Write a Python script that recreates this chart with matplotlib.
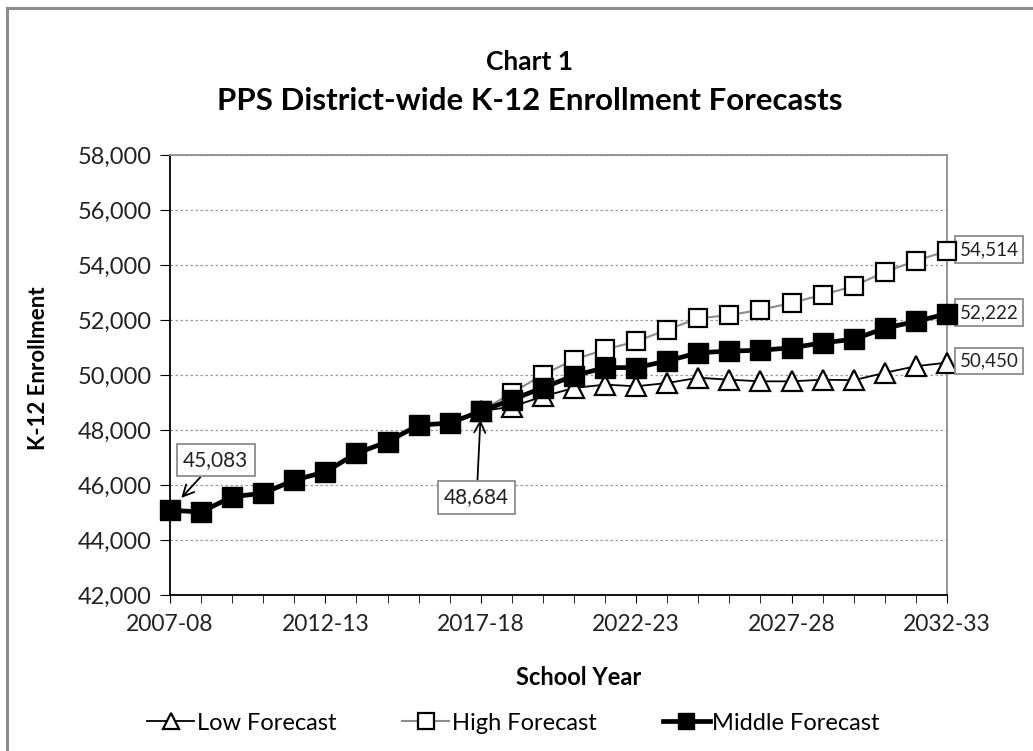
import matplotlib
matplotlib.use('Agg')
import matplotlib.pyplot as plt
from matplotlib.lines import Line2D
from matplotlib.ticker import FuncFormatter, MultipleLocator
import numpy as np

plt.rcParams['font.family'] = ['Lato', 'DejaVu Sans']

# school years 2007-08 .. 2032-33
years = [f"{y}-{str(y + 1)[-2:]}" for y in range(2007, 2033)]

# actual enrollment 2007-08 .. 2017-18, then the middle forecast
middle = [45083, 45020, 45575, 45700, 46180, 46480, 47150, 47575, 48180, 48250,
          48684, 49100, 49540, 49975, 50270, 50270, 50510, 50810, 50870, 50900,
          50990, 51170, 51300, 51700, 51950, 52222]
# low / high forecasts start from the 2017-18 actual
low = [48684, 48850, 49220, 49530, 49650, 49590, 49710, 49900, 49830, 49770,
       49770, 49830, 49810, 50080, 50320, 50450]
high = [48684, 49350, 50010, 50560, 50930, 51220, 51650, 52060, 52180, 52370,
        52620, 52920, 53230, 53750, 54150, 54514]

x_all = np.arange(len(years))
x_fc = x_all[10:]

fig = plt.figure(figsize=(10.33, 7.51), dpi=100)
ax = fig.add_axes([0.1646, 0.2077, 0.7521, 0.5859])

ax.plot(x_fc, low, color='black', lw=1.3, marker='^', ms=14, mfc='white',
        mec='black', mew=1.6, zorder=3, clip_on=False, label='Low Forecast')
ax.plot(x_fc, high, color='#8c8c8c', lw=1.5, marker='s', ms=13, mfc='white',
        mec='black', mew=1.6, zorder=4, clip_on=False, label='High Forecast')
ax.plot(x_all, middle, color='black', lw=3.4, marker='s', ms=15, mfc='black',
        mec='black', zorder=5, clip_on=False, label='Middle Forecast')

ax.set_xlim(0, len(years) - 1)
ax.set_ylim(42000, 58000)
ax.yaxis.set_major_locator(MultipleLocator(2000))
ax.yaxis.set_major_formatter(FuncFormatter(lambda v, p: f"{int(v):,}"))
ax.set_xticks(x_all[::5])
ax.set_xticklabels(years[::5])
ax.set_xticks(x_all, minor=True)
ax.tick_params(axis='x', which='both', length=6, direction='out', pad=8,
               labelsize=16.5, labelcolor='#222222')
ax.tick_params(axis='y', length=7, direction='out', pad=6, labelsize=17,
               labelcolor='#222222')
ax.grid(axis='y', color='#9a9a9a', ls=(0, (2, 2)), lw=0.9)
ax.set_axisbelow(True)

for s in ['left', 'bottom']:
    ax.spines[s].set_color('black')
    ax.spines[s].set_linewidth(1.3)
for s in ['top', 'right']:
    ax.spines[s].set_color('#8c8c8c')
    ax.spines[s].set_linewidth(1.3)

box = dict(boxstyle='square,pad=0.3', fc='white', ec='#8c8c8c', lw=1.3)
box_end = dict(boxstyle='square,pad=0.25', fc='white', ec='#8c8c8c', lw=1.3)

# callouts for the first year and last actual year
ax.annotate(f"{middle[0]:,}", xy=(x_all[0], middle[0]), xytext=(33, 36),
            textcoords='offset points', ha='center', va='center', fontsize=15,
            color='#222222', bbox=box, zorder=6,
            arrowprops=dict(arrowstyle='->', color='black', lw=1.3,
                            shrinkA=0, shrinkB=12, mutation_scale=20))
ax.annotate(f"{middle[10]:,}", xy=(x_all[10], middle[10]), xytext=(-3, -62),
            textcoords='offset points', ha='center', va='center', fontsize=15,
            color='#222222', bbox=box, zorder=6,
            arrowprops=dict(arrowstyle='->', color='black', lw=1.3,
                            shrinkA=0, shrinkB=6, mutation_scale=20))

# end labels
for vals in [high, middle, low]:
    ax.annotate(f"{vals[-1]:,}", xy=(x_all[-1], vals[-1]), xytext=(9, 1),
                textcoords='offset points', ha='left', va='center',
                fontsize=13.5, color='#222222', bbox=box_end,
                annotation_clip=False)

fig.text(0.513, 0.917, 'Chart 1', ha='center', va='center', fontsize=19,
         fontweight='bold')
fig.text(0.513, 0.866, 'PPS District-wide K-12 Enrollment Forecasts',
         ha='center', va='center', fontsize=22.5, fontweight='bold')
fig.text(0.56, 0.098, 'School Year', ha='center', va='center', fontsize=17,
         fontweight='bold')
fig.text(0.037, 0.51, 'K-12 Enrollment', ha='center', va='center', fontsize=16,
         fontweight='bold', rotation=90)

handles = [
    Line2D([], [], color='black', lw=1.3, marker='^', ms=11, mfc='white',
           mec='black', mew=1.6),
    Line2D([], [], color='#8c8c8c', lw=1.5, marker='s', ms=11, mfc='white',
           mec='black', mew=1.6),
    Line2D([], [], color='black', lw=3.4, marker='s', ms=12, mfc='black'),
]
fig.legend(handles, ['Low Forecast', 'High Forecast', 'Middle Forecast'],
           loc='center', bbox_to_anchor=(0.497, 0.037), ncol=3, frameon=False,
           fontsize=17, handlelength=2.0, handletextpad=0.1, columnspacing=2.8)

# chart frame: only the top and left edges show (the picture is cropped)
fig.add_artist(Line2D([0.0065, 1.0], [0.989, 0.989], transform=fig.transFigure,
                      color='#8c8c8c', lw=2.2))
fig.add_artist(Line2D([0.0065, 0.0065], [0.0, 0.989], transform=fig.transFigure,
                      color='#8c8c8c', lw=2.2))

fig.savefig('out.png', dpi=100)
